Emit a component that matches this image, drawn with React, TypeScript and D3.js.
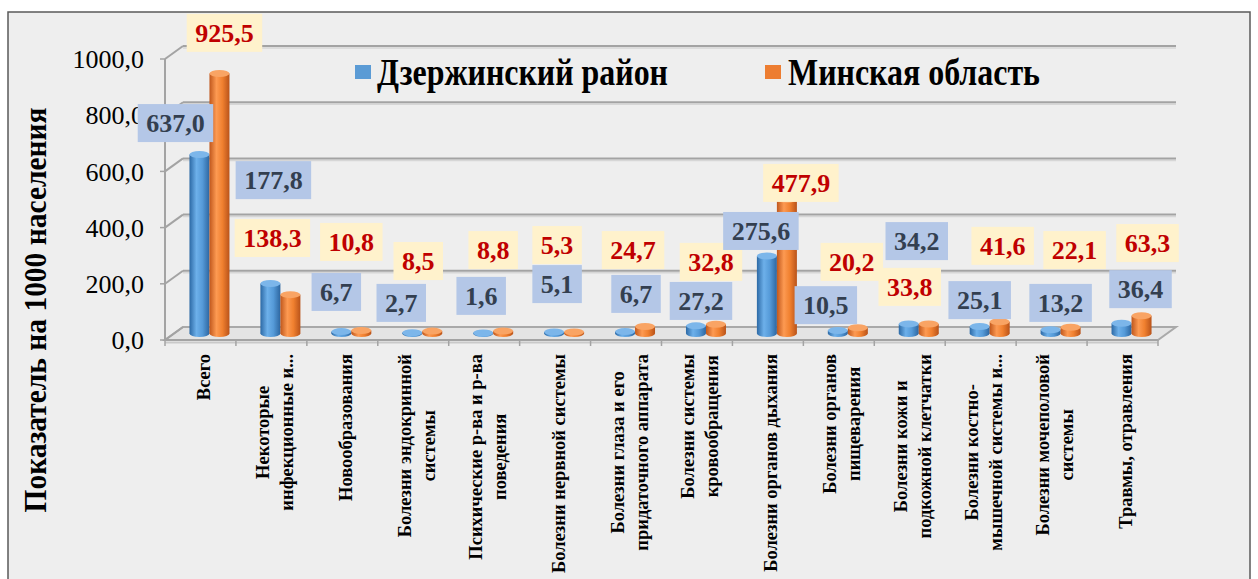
import React, { useMemo } from "react";
import * as d3 from "d3";

const categories: string[][] = [
  ["Всего"],
  ["Некоторые", "инфекционные и..."],
  ["Новообразования"],
  ["Болезни эндокринной", "системы"],
  ["Психические р-ва и р-ва", "поведения"],
  ["Болезни нервной системы"],
  ["Болезни глаза и его", "придаточного аппарата"],
  ["Болезни системы", "кровообращения"],
  ["Болезни органов дыхания"],
  ["Болезни органов", "пищеварения"],
  ["Болезни кожи и", "подкожной клетчатки"],
  ["Болезни костно-", "мышечной системы и..."],
  ["Болезни мочеполовой", "системы"],
  ["Травмы, отравления"],
];

const seriesNames = ["Дзержинский район", "Минская область"];
const dzValues = [637.0, 177.8, 6.7, 2.7, 1.6, 5.1, 6.7, 27.2, 275.6, 10.5, 34.2, 25.1, 13.2, 36.4];
const mnValues = [925.5, 138.3, 10.8, 8.5, 8.8, 5.3, 24.7, 32.8, 477.9, 20.2, 33.8, 41.6, 22.1, 63.3];
const yTicks = [0, 200, 400, 600, 800, 1000];

// label boxes were moved by hand in the original: x shift from category centre, height in axis units
const dzLabelDx = [-25, 2, -6, -12, -3, 2, 10, 4, -7, -13, 7, -1, 9, 18];
const dzLabelAt = [772, 569, 171, 132, 157, 199, 164, 139, 388, 124, 352, 142, 132, 181];
const mnLabelDx = [24, 1, 9, 5, 9, 2, 7, 14, 33, 13, 0, 22, 23, 25];
const mnLabelAt = [1093, 363, 349, 281, 320, 338, 320, 278, 559, 278, 189, 335, 320, 345];

const W = 1258;
const H = 579;
const FONT = "'Liberation Serif', 'Times New Roman', serif";
const DEPTH = { x: 18, y: -13 };
const BAR_W = 20;
const RY = 3.5;

const fmt = (v: number) => v.toFixed(1).replace(".", ",");

let ctx: CanvasRenderingContext2D | null = null;
function measure(text: string, font: string) {
  if (!ctx) ctx = document.createElement("canvas").getContext("2d");
  if (!ctx) return text.length * 9;
  ctx.font = font;
  return ctx.measureText(text).width;
}

function Cylinder({ x, top, base, grad, cap }: any) {
  return (
    <g>
      <ellipse cx={x + BAR_W / 2} cy={base} rx={BAR_W / 2} ry={RY} fill={`url(#${grad})`} />
      <rect x={x} y={top} width={BAR_W} height={Math.max(0, base - top)} fill={`url(#${grad})`} />
      <ellipse cx={x + BAR_W / 2} cy={top} rx={BAR_W / 2} ry={RY} fill={cap} />
    </g>
  );
}

function LabelBox({ x, y, text, fill, color }: any) {
  const font = `bold 26px ${FONT}`;
  const tw = measure(text, font);
  const bw = tw + 17;
  const bh = 38;
  return (
    <g>
      <rect x={x - bw / 2} y={y - bh / 2} width={bw} height={bh} fill={fill} />
      <text x={x} y={y} dy="0.35em" textAnchor="middle" fontFamily={FONT} fontWeight="bold"
        fontSize={26} fill={color}>{text}</text>
    </g>
  );
}

export default function App() {
  const x = useMemo(() => d3.scaleBand<number>().domain(d3.range(categories.length)).range([165, 1158]).padding(0), []);
  const y = useMemo(() => d3.scaleLinear().domain([0, 1000]).range([340, 59]), []);

  const back = (v: number) => y(v) + DEPTH.y;
  const cx = (i: number) => (x(i) as number) + x.bandwidth() / 2;
  const barMid = (i: number) => cx(i) + DEPTH.x / 2;
  const barBase = y(0) + DEPTH.y / 2;

  const catFont = `bold 18.5px ${FONT}`;

  return (
    <div style={{ position: "absolute", left: 0, top: 0 }}>
      <svg width={W} height={H} style={{ display: "block" }}>
        <defs>
          <linearGradient id="gBlue" x1="0" x2="1" y1="0" y2="0">
            <stop offset="0%" stopColor="#2c69a5" />
            <stop offset="35%" stopColor="#6db0ea" />
            <stop offset="65%" stopColor="#559ad8" />
            <stop offset="100%" stopColor="#2d66a0" />
          </linearGradient>
          <linearGradient id="gOrange" x1="0" x2="1" y1="0" y2="0">
            <stop offset="0%" stopColor="#c0571c" />
            <stop offset="35%" stopColor="#fd9a52" />
            <stop offset="65%" stopColor="#f0802f" />
            <stop offset="100%" stopColor="#b9531a" />
          </linearGradient>
        </defs>

        <rect x={0} y={0} width={W} height={H} fill="#ffffff" />
        <rect x={8} y={12} width={1242} height={H} fill="#eeeeee" stroke="#5a5a5a" strokeWidth={1.5} />

        {/* floor */}
        <polygon
          points={`${x.range()[0]},${y(0)} ${x.range()[1]},${y(0)} ${x.range()[1] + DEPTH.x},${back(0)} ${x.range()[0] + DEPTH.x},${back(0)}`}
          fill="#e4e4e4" stroke="#a9a9a9" strokeWidth={2}
        />
        <line x1={x.range()[0]} x2={x.range()[1]} y1={y(0) + 2.5} y2={y(0) + 2.5} stroke="#c9c9c9" strokeWidth={2} />

        {/* back wall gridlines */}
        {yTicks.slice(1).map((t) => (
          <g key={t}>
            <line x1={x.range()[0] + DEPTH.x} x2={x.range()[1] + DEPTH.x} y1={back(t) + 2} y2={back(t) + 2} stroke="#d6d6d6" strokeWidth={1.5} />
            <line x1={x.range()[0] + DEPTH.x} x2={x.range()[1] + DEPTH.x} y1={back(t)} y2={back(t)} stroke="#a3a3a3" strokeWidth={2} />
          </g>
        ))}
        {yTicks.map((t) => (
          <line key={"d" + t} x1={x.range()[0]} y1={y(t)} x2={x.range()[0] + DEPTH.x} y2={back(t)} stroke="#a3a3a3" strokeWidth={2} />
        ))}

        {/* y axis */}
        <line x1={x.range()[0]} x2={x.range()[0]} y1={y(1000)} y2={y(0)} stroke="#a3a3a3" strokeWidth={2} />
        {yTicks.map((t) => (
          <g key={"t" + t}>
            <line x1={x.range()[0] - 5} x2={x.range()[0]} y1={y(t)} y2={y(t)} stroke="#a3a3a3" strokeWidth={1.5} />
            <text x={144} y={y(t)} dy="0.35em" textAnchor="end" fontFamily={FONT} fontSize={26} fill="#000">
              {fmt(t)}
            </text>
          </g>
        ))}

        {/* x axis ticks */}
        <line x1={x.range()[0]} x2={x.range()[1]} y1={y(0)} y2={y(0)} stroke="#a3a3a3" strokeWidth={2} />
        {d3.range(categories.length + 1).map((k) => {
          const xx = x.range()[0] + k * x.bandwidth();
          return <line key={"x" + k} x1={xx} x2={xx} y1={y(0)} y2={y(0) + 6} stroke="#a3a3a3" strokeWidth={1.5} />;
        })}

        {/* bars */}
        {categories.map((_, i) => (
          <g key={"b" + i}>
            <Cylinder x={barMid(i) - BAR_W} top={y(dzValues[i]) + DEPTH.y / 2} base={barBase} grad="gBlue" cap="#7cb6ea" />
            <Cylinder x={barMid(i)} top={y(mnValues[i]) + DEPTH.y / 2} base={barBase} grad="gOrange" cap="#f9a464" />
          </g>
        ))}

        {/* category labels */}
        {categories.map((lines, i) => {
          const wMax = d3.max(lines, (l) => measure(l, catFont)) || 0;
          const midY = 354 + wMax / 2;
          return (
            <g key={"c" + i}>
              {lines.map((l, j) => {
                const lx = cx(i) + 3 + (j - (lines.length - 1) / 2) * 24;
                return (
                  <text key={j} transform={`translate(${lx},${midY}) rotate(-90)`} dy="0.35em" textAnchor="middle"
                    fontFamily={FONT} fontWeight="bold" fontSize={18.5} fill="#000">
                    {l}
                  </text>
                );
              })}
            </g>
          );
        })}

        {/* data labels */}
        {categories.map((_, i) => (
          <g key={"l" + i}>
            <LabelBox x={cx(i) + dzLabelDx[i]} y={y(dzLabelAt[i])} text={fmt(dzValues[i])} fill="#b4c7e7" color="#333f50" />
            <LabelBox x={cx(i) + mnLabelDx[i]} y={y(mnLabelAt[i])} text={fmt(mnValues[i])} fill="#fff2cc" color="#c00000" />
          </g>
        ))}

        {/* legend */}
        <rect x={355} y={65} width={16} height={14} fill="#5b9bd5" />
        <text x={377} y={85} fontFamily={FONT} fontWeight="bold" fontSize={37} textLength={291}
          lengthAdjust="spacingAndGlyphs">{seriesNames[0]}</text>
        <rect x={765} y={65} width={16} height={14} fill="#ed7d31" />
        <text x={788} y={85} fontFamily={FONT} fontWeight="bold" fontSize={37} textLength={252}
          lengthAdjust="spacingAndGlyphs">{seriesNames[1]}</text>

        {/* axis title */}
        <text transform="translate(35,310) rotate(-90)" dy="0.35em" textAnchor="middle" fontFamily={FONT}
          fontWeight="bold" fontSize={31} textLength={405} lengthAdjust="spacingAndGlyphs" fill="#000">
          Показатель на 1000 населения
        </text>
      </svg>
    </div>
  );
}
